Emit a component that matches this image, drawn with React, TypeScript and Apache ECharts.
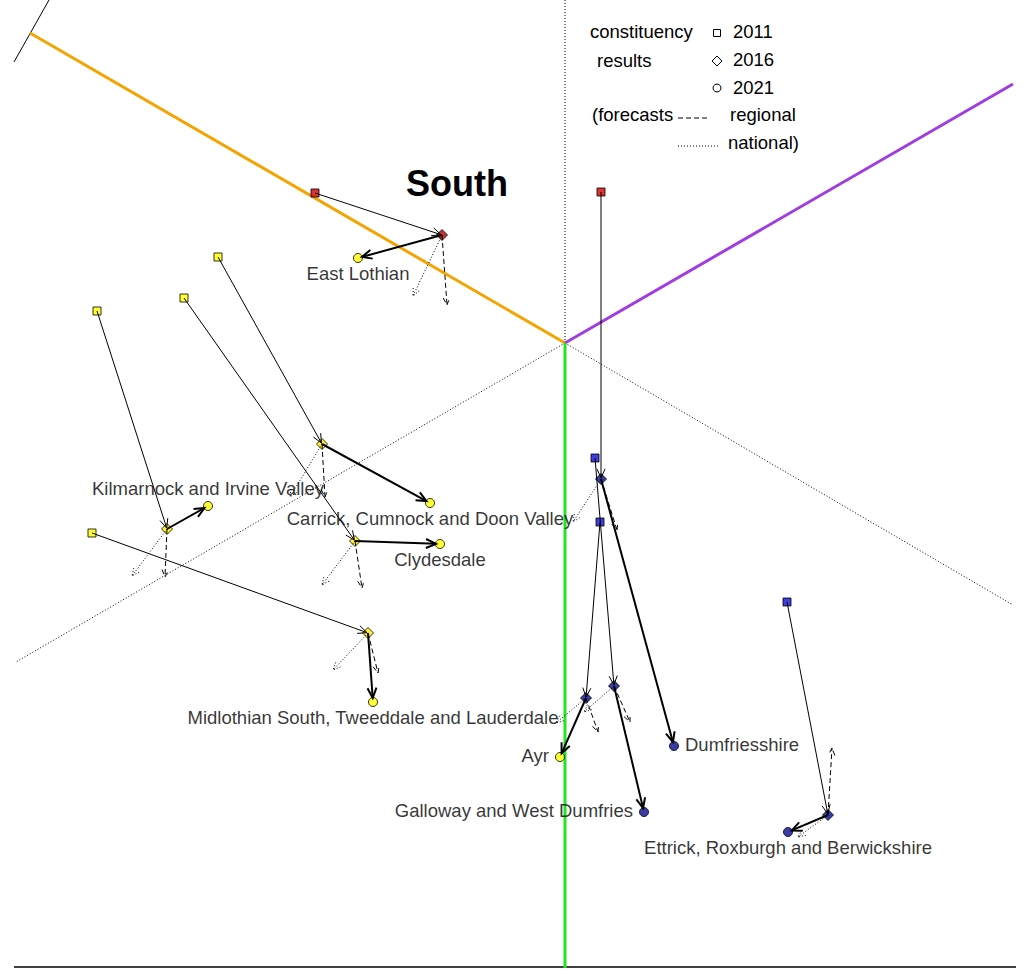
import React, { useEffect, useRef } from "react";
import * as echarts from "echarts";

// ---------- data (page-scale coordinates) ----------
const orangeAxis: number[][] = [[30, 33], [565, 343]];
const purpleAxis: number[][] = [[565, 343], [1013, 84]];
const greenAxis: number[][] = [[565, 343], [565, 968]];
const dottedUp: number[][] = [[565, 0], [565, 343]];
const dottedLeft: number[][] = [[565, 343], [16, 662]];
const dottedRight: number[][] = [[565, 343], [1013, 605]];
const baseLine: number[][] = [[14, 967], [1016, 967]];
const cornerTick: number[][] = [[14, 62], [49, 0]];

const constituencies: string[] = [
  "East Lothian",
  "Kilmarnock and Irvine Valley",
  "Carrick, Cumnock and Doon Valley",
  "Clydesdale",
  "Midlothian South, Tweeddale and Lauderdale",
  "Dumfriesshire",
  "Ayr",
  "Galloway and West Dumfries",
  "Ettrick, Roxburgh and Berwickshire",
];
const pos2011: number[][] = [[315, 193], [97, 311], [218, 257], [184, 298], [92, 533], [601, 192], [600, 522], [595, 458], [787, 602]];
const pos2016: number[][] = [[442, 235], [167, 529], [322, 444], [355, 541], [368, 633], [601, 479], [586, 698], [614, 686], [828, 815]];
const pos2021: number[][] = [[358, 258], [208, 506], [430, 503], [440, 544], [373, 702], [674, 746], [560, 757], [644, 812], [788, 832]];
const winner2011: string[] = ["Lab", "SNP", "SNP", "SNP", "SNP", "Lab", "Con", "Con", "Con"];
const winner2016: string[] = ["Lab", "SNP", "SNP", "SNP", "SNP", "Con", "Con", "Con", "Con"];
const winner2021: string[] = ["SNP", "SNP", "SNP", "SNP", "SNP", "Con", "SNP", "Con", "Con"];
const regionalForecast: number[][] = [[447, 305], [165, 577], [325, 497], [362, 588], [378, 673], [617, 530], [598, 732], [630, 722], [832, 748]];
const nationalForecast: number[][] = [[413, 296], [132, 576], [290, 497], [322, 585], [333, 670], [573, 522], [556, 723], [584, 712], [798, 837]];
const labelSide: string[] = ["bottom", "top", "bottom", "bottom", "bottom", "right", "left", "left", "bottom"];

const legendYears: string[] = ["2011", "2016", "2021"];

// ---------- styling ----------
const FONT = "Liberation Sans, Arial, sans-serif";
const FS = 18.5;
const partyColour: Record<string, string[]> = {
  // [square, diamond, circle]
  Lab: ["#d40000", "#b80000", "#c00000"],
  SNP: ["#ffff00", "#ffee00", "#ffff00"],
  Con: ["#1010d0", "#0a0a90", "#0a0a90"],
};

function arrowSeries(name: string, data: number[][], width: number, dash: any, headLen: number, shorten: number, z: number) {
  return {
    type: "custom",
    name,
    coordinateSystem: "cartesian2d",
    silent: true,
    z,
    encode: { x: [0, 2], y: [1, 3] },
    data,
    renderItem: (params: any, api: any) => {
      const p1 = api.coord([api.value(0), api.value(1)]);
      const q = api.coord([api.value(2), api.value(3)]);
      const dx = q[0] - p1[0];
      const dy = q[1] - p1[1];
      const len = Math.hypot(dx, dy) || 1;
      const ux = dx / len;
      const uy = dy / len;
      const p2 = [q[0] - ux * shorten, q[1] - uy * shorten];
      const ang = Math.atan2(uy, ux);
      const a = 0.42;
      const h1 = [p2[0] - headLen * Math.cos(ang - a), p2[1] - headLen * Math.sin(ang - a)];
      const h2 = [p2[0] - headLen * Math.cos(ang + a), p2[1] - headLen * Math.sin(ang + a)];
      const style: any = { stroke: "#000", lineWidth: width, fill: null };
      if (dash) style.lineDash = dash;
      return {
        type: "group",
        children: [
          { type: "line", shape: { x1: p1[0], y1: p1[1], x2: p2[0], y2: p2[1] }, style },
          { type: "polyline", shape: { points: [h1, p2, h2] }, style: { ...style } },
        ],
      };
    },
  };
}

function segmentSeries(pts: number[][], color: string, width: number, type: any, z: number) {
  return {
    type: "line",
    data: pts,
    showSymbol: false,
    symbol: "none",
    silent: true,
    z,
    lineStyle: { color, width, type },
  };
}

export default function App() {
  const ref = useRef<HTMLDivElement>(null);
  useEffect(() => {
    if (!ref.current) return;
    const chart = echarts.init(ref.current, undefined, { renderer: "svg" });

    const markerData = (pos: number[][], winners: string[], k: number, withLabels: boolean) =>
      pos.map((p, i) => {
        const item: any = {
          value: p,
          name: constituencies[i],
          itemStyle: { color: partyColour[winners[i]][k], borderColor: "#000", borderWidth: 1 },
        };
        if (withLabels) {
          const side = labelSide[i];
          const sideways = side === "left" || side === "right";
          item.label = {
            show: true,
            position: side,
            distance: sideways ? 6 : side === "bottom" ? 1 : 3,
            offset: sideways ? [0, -2] : [0, 0],
            formatter: constituencies[i],
            fontFamily: FONT,
            fontSize: FS,
            color: "#000",
            textBorderWidth: 0,
          };
        }
        return item;
      });

    const pair = (a: number[][], b: number[][]) => a.map((p, i) => [p[0], p[1], b[i][0], b[i][1]]);
    const txt = (x: number, y: number, text: string) => ({
      type: "text",
      x,
      y: y - 1,
      style: { text, fontFamily: FONT, fontSize: FS, fill: "#000", verticalAlign: "middle" },
    });

    const option: any = {
      animation: false,
      backgroundColor: "#fff",
      grid: { left: 0, right: 0, top: 0, bottom: 0 },
      xAxis: { type: "value", min: 0, max: 1026, show: false },
      yAxis: { type: "value", min: 0, max: 980, inverse: true, show: false },
      series: [
        segmentSeries(baseLine, "#000", 1.5, "solid", 1),
        segmentSeries(cornerTick, "#000", 1, "solid", 1),
        segmentSeries(dottedUp, "#000", 1, [1, 2], 1),
        segmentSeries(dottedLeft, "#000", 1, [1, 2], 1),
        segmentSeries(dottedRight, "#000", 1, [1, 2], 1),
        segmentSeries(orangeAxis, "#f5a300", 3, "solid", 1),
        segmentSeries(purpleAxis, "#a03ce0", 3, "solid", 1),
        segmentSeries(greenAxis, "#22e622", 3, "solid", 1),
        {
          type: "scatter",
          name: "2011",
          symbol: "rect",
          symbolSize: 8,
          z: 2,
          silent: true,
          data: markerData(pos2011, winner2011, 0, false),
        },
        {
          type: "scatter",
          name: "2016",
          symbol: "diamond",
          symbolSize: 11,
          z: 2,
          silent: true,
          data: markerData(pos2016, winner2016, 1, false),
        },
        {
          type: "scatter",
          name: "2021",
          symbol: "circle",
          symbolSize: 9,
          z: 2,
          silent: true,
          data: markerData(pos2021, winner2021, 2, true),
        },
        arrowSeries("2011-2016", pair(pos2011, pos2016), 1, null, 10, 1, 3),
        arrowSeries("2016-2021", pair(pos2016, pos2021), 2, null, 11, 4, 3),
        arrowSeries("regional", pair(pos2016, regionalForecast), 1, [5, 3], 8, 0, 3),
        arrowSeries("national", pair(pos2016, nationalForecast), 1, [1, 2], 8, 0, 3),
      ],
      graphic: [
        {
          type: "text",
          x: 457,
          y: 183,
          style: { text: "South", fontFamily: FONT, fontSize: 36, fontWeight: "bold", fill: "#000", align: "center", verticalAlign: "middle" },
        },
        txt(590, 32, "constituency"),
        txt(597, 61, "results"),
        { type: "rect", shape: { x: 713.5, y: 29.5, width: 7, height: 7 }, style: { fill: "#fff", stroke: "#000", lineWidth: 1 } },
        { type: "polygon", shape: { points: [[717, 56], [722, 61], [717, 66], [712, 61]] }, style: { fill: "#fff", stroke: "#000", lineWidth: 1 } },
        { type: "circle", shape: { cx: 717, cy: 88, r: 4 }, style: { fill: "#fff", stroke: "#000", lineWidth: 1 } },
        txt(733, 32, legendYears[0]),
        txt(733, 60, legendYears[1]),
        txt(733, 88, legendYears[2]),
        txt(592, 115, "(forecasts"),
        { type: "line", shape: { x1: 678, y1: 118, x2: 710, y2: 118 }, style: { stroke: "#000", lineWidth: 1, lineDash: [5, 3] } },
        txt(730, 115, "regional"),
        { type: "line", shape: { x1: 678, y1: 146, x2: 718, y2: 146 }, style: { stroke: "#000", lineWidth: 1, lineDash: [1, 2] } },
        txt(728, 143, "national)"),
      ],
    };
    chart.setOption(option);
    return () => chart.dispose();
  }, []);

  return <div ref={ref} style={{ position: "fixed", left: 0, top: 0, width: 1026, height: 980, background: "#fff" }} />;
}
